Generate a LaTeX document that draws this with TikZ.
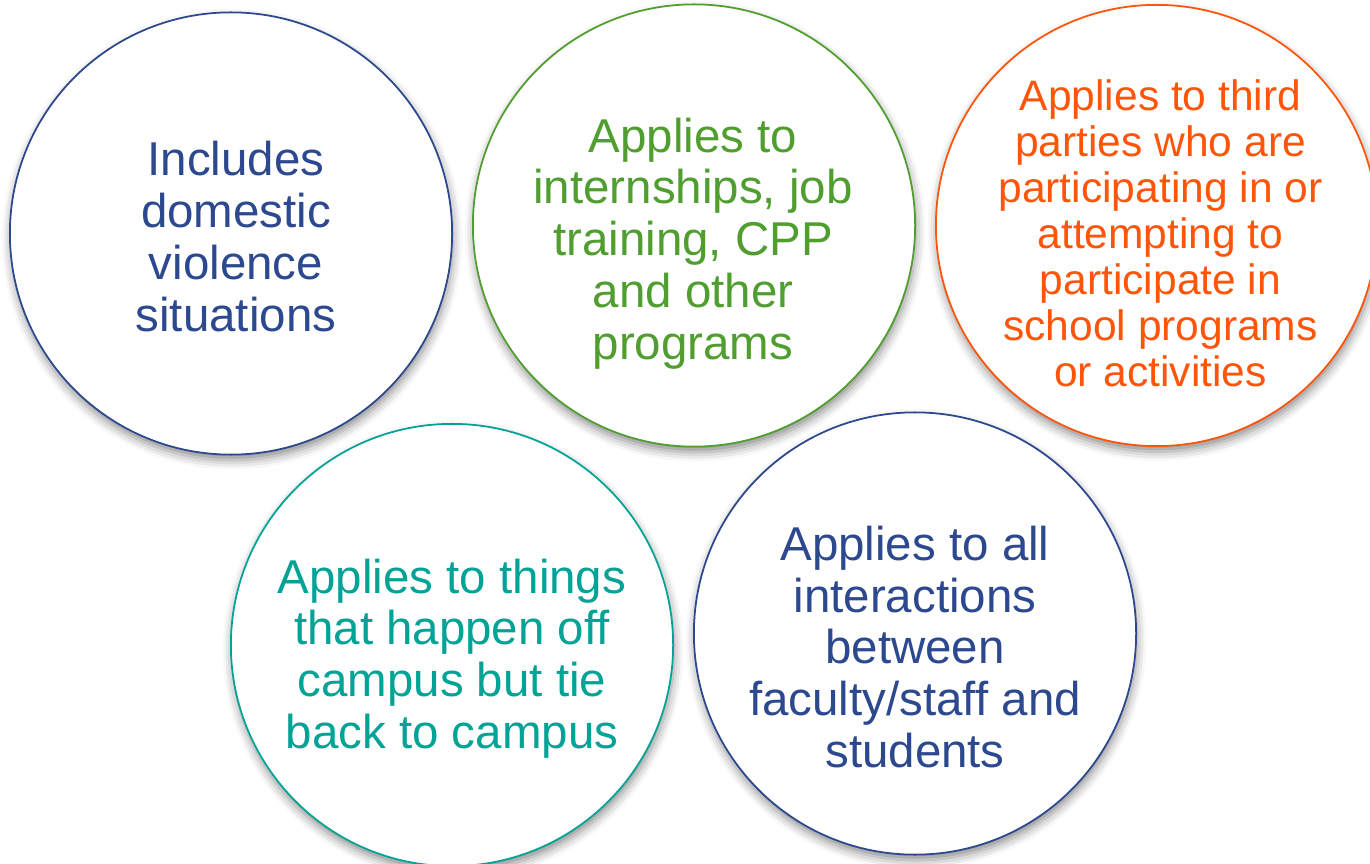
\documentclass[tikz,border=0pt]{standalone}
\usepackage{fontspec}
\setmainfont{Liberation Sans}
\usepackage{tikz}
\usetikzlibrary{shadows.blur}
\definecolor{navy}{RGB}{44,72,142}
\definecolor{leaf}{RGB}{80,158,47}
\definecolor{flame}{RGB}{255,85,10}
\definecolor{teal}{RGB}{0,163,150}

\begin{document}
\begin{tikzpicture}[x=0.01cm, y=-0.01cm,
    bubble/.style={circle, draw=#1, fill=white, line width=0.5pt, minimum size=4.42cm,
        inner sep=0pt, outer sep=0pt,
        blur shadow={shadow xshift=0.3pt, shadow yshift=-1.6pt, shadow blur radius=2.6pt, shadow opacity=45}},
    words/.style={text=#1, align=center, inner sep=0pt, font=\fontsize{13.5}{14.7}\selectfont}]

                \useasboundingbox (0,0) rectangle (1370,864);

                \node[bubble=navy] (D) at (231,233.5) {};
                \node[bubble=leaf] (I) at (694,225.5) {};
                \node[bubble=flame, minimum size=4.41cm] (P) at (1156.5,225.5) {};
                \node[bubble=teal] (C) at (452,645) {};
                \node[bubble=navy] (F) at (915,633.5) {};

                \node[words=navy] (Dt) at (236,236.5) {Includes\\domestic\\violence\\situations};
                \node[words=leaf] (It) at (693,243.4) {Applies to\\internships, job\\training, CPP\\and other\\programs};
                \node[words=flame, font=\fontsize{12.1}{13.1}\selectfont] (Pt) at (1160.5,233.5)
                    {Applies to third\\parties who are\\participating in or\\attempting to\\participate in\\school programs\\or activities};
                \node[words=teal] (Ct) at (452,658.5) {Applies to things\\that happen off\\campus but tie\\back to campus};
                \node[words=navy] (Ft) at (915,647) {Applies to all\\interactions\\between\\faculty/staff and\\students};

\end{tikzpicture}
\end{document}
